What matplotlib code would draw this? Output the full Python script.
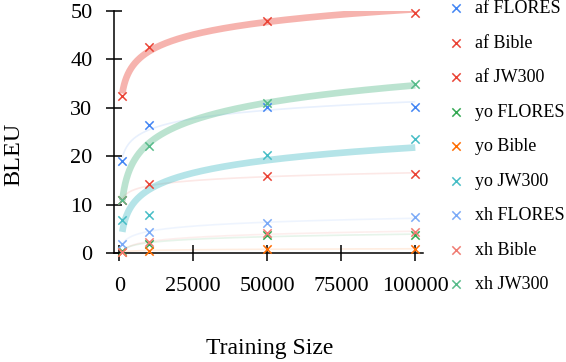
import numpy as np
import matplotlib
matplotlib.use('Agg')
import matplotlib.pyplot as plt

plt.rcParams['font.family'] = ['Liberation Serif', 'DejaVu Serif']

# training sizes shared by every series
TRAIN_SIZES = [1000, 10000, 50000, 100000]

SERIES_NAMES = [
    'af FLORES', 'af Bible', 'af JW300',
    'yo FLORES', 'yo Bible', 'yo JW300',
    'xh FLORES', 'xh Bible', 'xh JW300',
]

# BLEU scores, one list per series
af_flores = [19.0, 26.5, 30.2, 30.1]
af_bible = [11.0, 14.2, 15.9, 16.3]
af_jw300 = [32.4, 42.6, 48.0, 49.6]
yo_flores = [0.5, 1.8, 3.7, 3.8]
yo_bible = [0.2, 0.5, 0.9, 0.8]
yo_jw300 = [6.8, 7.9, 20.2, 23.5]
xh_flores = [1.9, 4.3, 6.1, 7.5]
xh_bible = [0.3, 2.2, 4.1, 4.4]
xh_jw300 = [11.0, 22.2, 31.0, 34.9]

SERIES_VALUES = [
    af_flores, af_bible, af_jw300,
    yo_flores, yo_bible, yo_jw300,
    xh_flores, xh_bible, xh_jw300,
]

COLORS = [
    '#4285F4', '#EA4335', '#EA4335',
    '#34A853', '#FF6D01', '#46BDC6',
    '#7BAAF7', '#F07B72', '#57BB8A',
]
FIT_WIDTHS = [1.2, 1.2, 4.8, 1.2, 1.2, 4.8, 1.2, 1.2, 4.8]
FIT_ALPHAS = [0.12, 0.12, 0.4, 0.12, 0.12, 0.4, 0.12, 0.12, 0.4]


def log_fit(sizes, scores):
    coeffs = np.polyfit(np.log(sizes), scores, 1)
    grid = np.geomspace(min(sizes), max(sizes), 200)
    return grid, np.polyval(coeffs, np.log(grid))


figure = plt.figure(figsize=(5.66, 3.62), dpi=100)
axes = figure.add_axes([0.2014, 0.301, 0.5459, 0.669])

for name, scores, color, lw, alpha in zip(
        SERIES_NAMES, SERIES_VALUES, COLORS, FIT_WIDTHS, FIT_ALPHAS):
    grid, fitted = log_fit(TRAIN_SIZES, scores)
    axes.plot(grid, fitted, color=color, linewidth=lw, alpha=alpha,
              solid_capstyle='butt', zorder=1)

for name, scores, color in zip(SERIES_NAMES, SERIES_VALUES, COLORS):
    axes.scatter(TRAIN_SIZES, scores, marker='x', color=color, s=36,
                 linewidths=1.1, label=name, zorder=3, clip_on=False)

axes.set_xlim(-1800, 102600)
axes.set_ylim(0, 50)
axes.set_xticks([0, 25000, 50000, 75000, 100000])
axes.set_yticks([0, 10, 20, 30, 40, 50])
for side in ('top', 'right'):
    axes.spines[side].set_visible(False)
for side in ('left', 'bottom'):
    axes.spines[side].set_linewidth(1.1)
axes.tick_params(direction='inout', length=11, width=1.1, labelsize=16)
axes.tick_params(axis='x', pad=12)
axes.tick_params(axis='y', pad=10)

axes.set_xlabel('Training Size', fontsize=17)
axes.set_ylabel('BLEU', fontsize=17.5)
axes.xaxis.set_label_coords(0.505, -0.393)
axes.xaxis.label.set_verticalalignment('center')
axes.yaxis.set_label_coords(-0.325, 0.409)
axes.yaxis.label.set_verticalalignment('center')

figure.legend(loc='upper left', bbox_to_anchor=(0.790, 1.0),
              frameon=False, fontsize=13, scatterpoints=1,
              handlelength=1.0, handletextpad=0.55, labelspacing=0.97,
              borderpad=0, borderaxespad=0)

figure.savefig('out.png', dpi=100)
